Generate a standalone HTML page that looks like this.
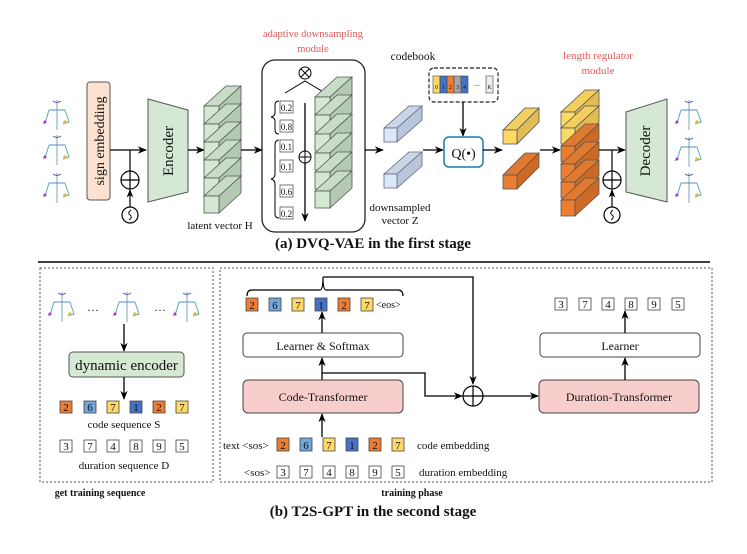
<!DOCTYPE html>
<html><head><meta charset="utf-8"><style>
html,body{margin:0;padding:0;background:#fff}
svg{display:block}
text{font-family:"Liberation Serif",serif;fill:#111}
</style></head><body>
<svg width="747" height="554" viewBox="0 0 747 554" xmlns="http://www.w3.org/2000/svg">
<defs>
<marker id="ar" viewBox="0 0 10 10" refX="9" refY="5" markerWidth="7" markerHeight="7" orient="auto-start-reverse"><path d="M0,1 L10,5 L0,9 L3,5 z" fill="#000"/></marker>
<g id="cg" stroke="#555" stroke-width="0.8">
<polygon points="0,0 22,-20 37,-20 15,0" fill="#c9dcc8"/>
<polygon points="15,0 37,-20 37,-3 15,17" fill="#b4c9b3"/>
<rect x="0" y="0" width="15" height="17" fill="#d5e8d4"/></g>
<g id="cb" stroke="#667" stroke-width="0.8">
<polygon points="0,0 25,-22 38,-22 13,0" fill="#c9d6ea"/>
<polygon points="13,0 38,-22 38,-8 13,14" fill="#b8c6dc"/>
<rect x="0" y="0" width="13" height="14" fill="#dae8fc"/></g>
<g id="cy" stroke="#555" stroke-width="0.8">
<polygon points="0,0 22,-22 36,-22 14,0" fill="#f2cf5e"/>
<polygon points="14,0 36,-22 36,-8 14,14" fill="#e2bc50"/>
<rect x="0" y="0" width="14" height="14" fill="#ffd966"/></g>
<g id="co" stroke="#555" stroke-width="0.8">
<polygon points="0,0 22,-22 36,-22 14,0" fill="#e07a30"/>
<polygon points="14,0 36,-22 36,-8 14,14" fill="#cc6a25"/>
<rect x="0" y="0" width="14" height="14" fill="#ed7d31"/></g>
<g id="ry" stroke="#555" stroke-width="0.8">
<polygon points="0,0 24,-22 38,-22 14,0" fill="#f2cf5e"/>
<polygon points="14,0 38,-22 38,-6 14,16" fill="#e2bc50"/>
<rect x="0" y="0" width="14" height="16" fill="#ffd966"/></g>
<g id="ro" stroke="#555" stroke-width="0.8">
<polygon points="0,0 24,-22 38,-22 14,0" fill="#e07a30"/>
<polygon points="14,0 38,-22 38,-6 14,16" fill="#cc6a25"/>
<rect x="0" y="0" width="14" height="16" fill="#ed7d31"/></g>
<g id="sk" fill="none" stroke-width="1">
<path d="M12,0 L12,30" stroke="#7ab"/>
<path d="M8,1 Q12,4 16,1" stroke="#55a"/>
<path d="M4,10 L20,10" stroke="#58c"/>
<path d="M4,10 L1,20 L-2,24" stroke="#5ab"/>
<path d="M20,10 L24,22 L18,24" stroke="#5ab"/>
<circle cx="0" cy="22" r="1.5" fill="#a3c" stroke="none"/>
<circle cx="20" cy="22" r="1.8" fill="#db4" stroke="none"/>
</g>
</defs>

<!-- ===== Part (a) ===== -->
<use href="#sk" x="45" y="100"/><use href="#sk" x="45" y="135"/><use href="#sk" x="45" y="173"/>
<rect x="87" y="82" width="23" height="118" rx="3" fill="#fde3cf" stroke="#555" stroke-width="1"/>
<text transform="translate(104,141) rotate(-90)" font-size="14" text-anchor="middle">sign embedding</text>
<line x1="110" y1="150" x2="146" y2="150" stroke="#000" stroke-width="1.3" marker-end="url(#ar)"/>
<line x1="130" y1="150" x2="130" y2="171" stroke="#000" stroke-width="1.2"/>
<circle cx="130" cy="180" r="9" fill="none" stroke="#000" stroke-width="1.2"/>
<path d="M121,180 H139 M130,171 V189" stroke="#000" stroke-width="1.2"/>
<line x1="130" y1="207" x2="130" y2="190" stroke="#000" stroke-width="1.2" marker-end="url(#ar)"/>
<circle cx="130" cy="215" r="8" fill="#fff" stroke="#000" stroke-width="1.2"/>
<path d="M131,210 Q127,213 130,215 Q133,217 129,220" fill="none" stroke="#000" stroke-width="0.9"/>
<polygon points="148,99 188,110 188,192 148,202" fill="#d5e8d4" stroke="#555"/>
<text transform="translate(173,151) rotate(-90)" font-size="15" text-anchor="middle">Encoder</text>
<line x1="188" y1="150" x2="204" y2="150" stroke="#000" stroke-width="1.3" marker-end="url(#ar)"/>
<use href="#cg" x="204" y="106"/><use href="#cg" x="204" y="124"/><use href="#cg" x="204" y="142"/><use href="#cg" x="204" y="160"/><use href="#cg" x="204" y="178"/><use href="#cg" x="204" y="196"/>
<text x="220" y="229" font-size="11" text-anchor="middle">latent vector  H</text>
<line x1="241" y1="150" x2="262" y2="150" stroke="#000" stroke-width="1.3" marker-end="url(#ar)"/>
<text x="313" y="37" font-size="10.5" text-anchor="middle" style="fill:#e05a5a">adaptive downsampling</text>
<text x="313" y="52" font-size="10.5" text-anchor="middle" style="fill:#e05a5a">module</text>
<rect x="262" y="60" width="103" height="172" rx="13" fill="none" stroke="#222" stroke-width="1.3"/>
<circle cx="305" cy="73" r="6" fill="none" stroke="#000"/>
<path d="M301,69 L309,77 M309,69 L301,77" stroke="#000"/>
<path d="M285,93 L305,81 L325,93" fill="none" stroke="#000"/>
<g stroke="#555" stroke-width="0.8">
<rect x="280" y="101" width="13" height="12" fill="#fff"/><rect x="280" y="120" width="13" height="12" fill="#fff"/>
<rect x="280" y="140" width="13" height="12" fill="#fff"/><rect x="280" y="160" width="13" height="12" fill="#fff"/>
<rect x="280" y="185" width="13" height="12" fill="#fff"/><rect x="280" y="207" width="13" height="12" fill="#fff"/>
</g>
<g font-size="9" text-anchor="middle"><text x="286.5" y="111">0.2</text><text x="286.5" y="130">0.8</text><text x="286.5" y="150">0.1</text><text x="286.5" y="170">0.1</text><text x="286.5" y="195">0.6</text><text x="286.5" y="217">0.2</text></g>
<path d="M279,101 Q275,101 275,105 L275,113 Q275,116 271,117 Q275,118 275,121 L275,130 Q275,134 279,134" fill="none" stroke="#000"/>
<path d="M279,140 Q275,140 275,145 L275,174 Q275,178 271,179 Q275,180 275,184 L275,214 Q275,218 279,218" fill="none" stroke="#000"/>
<line x1="305" y1="103" x2="305" y2="221" stroke="#000" stroke-width="1.3" marker-end="url(#ar)"/>
<circle cx="305" cy="157" r="6" fill="#fff" stroke="#000"/><path d="M299,157 H311 M305,151 V163" stroke="#000"/>
<use href="#cg" x="315" y="97"/><use href="#cg" x="315" y="115"/><use href="#cg" x="315" y="134"/><use href="#cg" x="315" y="153"/><use href="#cg" x="315" y="172"/><use href="#cg" x="315" y="191"/>
<line x1="365" y1="150" x2="383" y2="150" stroke="#000" stroke-width="1.3" marker-end="url(#ar)"/>
<use href="#cb" x="384" y="128"/><use href="#cb" x="384" y="174"/>
<text x="400" y="211" font-size="11" text-anchor="middle">downsampled</text>
<text x="400" y="224" font-size="11" text-anchor="middle">vector  Z</text>
<line x1="423" y1="150" x2="443" y2="150" stroke="#000" stroke-width="1.3" marker-end="url(#ar)"/>
<text x="413" y="60" font-size="11.5" text-anchor="middle">codebook</text>
<rect x="429" y="68" width="69" height="34" rx="5" fill="none" stroke="#222" stroke-width="1.2" stroke-dasharray="4,2"/>
<g stroke="#444" stroke-width="0.6"><rect x="433" y="76" width="7" height="17" fill="#ffd966"/><rect x="440" y="76" width="7" height="17" fill="#4472c4"/><rect x="447" y="76" width="7" height="17" fill="#ed7d31"/><rect x="454" y="76" width="7" height="17" fill="#a5a5a5"/><rect x="461" y="76" width="7" height="17" fill="#4472c4"/><rect x="486" y="76" width="7" height="17" fill="#eee"/></g>
<g font-size="6" text-anchor="middle"><text x="436.5" y="89">0</text><text x="443.5" y="89">1</text><text x="450.5" y="89">2</text><text x="457.5" y="89">3</text><text x="464.5" y="89">4</text><text x="477" y="86">....</text><text x="489.5" y="89">K</text></g>
<line x1="463" y1="102" x2="463" y2="136" stroke="#000" stroke-width="1.3" marker-end="url(#ar)"/>
<rect x="444" y="137" width="39" height="30" rx="5" fill="#fff" stroke="#1a7bab" stroke-width="1.5"/>
<text x="463.5" y="158" font-size="14" text-anchor="middle">Q(•)</text>
<line x1="483" y1="150" x2="502" y2="150" stroke="#000" stroke-width="1.3" marker-end="url(#ar)"/>
<use href="#cy" x="503" y="130"/><use href="#co" x="503" y="175"/>
<line x1="540" y1="150" x2="560" y2="150" stroke="#000" stroke-width="1.3" marker-end="url(#ar)"/>
<text x="598" y="59" font-size="11" text-anchor="middle" style="fill:#e05a5a">length regulator</text>
<text x="598" y="74" font-size="11" text-anchor="middle" style="fill:#e05a5a">module</text>
<use href="#ry" x="561" y="112"/><use href="#ry" x="561" y="128"/><use href="#ro" x="561" y="146"/><use href="#ro" x="561" y="164"/><use href="#ro" x="561" y="182"/><use href="#ro" x="561" y="200"/>
<line x1="599" y1="150" x2="625" y2="150" stroke="#000" stroke-width="1.3" marker-end="url(#ar)"/>
<line x1="612" y1="150" x2="612" y2="171" stroke="#000" stroke-width="1.2"/>
<circle cx="612" cy="180" r="9" fill="none" stroke="#000" stroke-width="1.2"/>
<path d="M603,180 H621 M612,171 V189" stroke="#000" stroke-width="1.2"/>
<line x1="612" y1="207" x2="612" y2="190" stroke="#000" stroke-width="1.2" marker-end="url(#ar)"/>
<circle cx="612" cy="215" r="8" fill="#fff" stroke="#000" stroke-width="1.2"/>
<path d="M613,210 Q609,213 612,215 Q615,217 611,220" fill="none" stroke="#000" stroke-width="0.9"/>
<polygon points="626,112 667,99 667,202 626,192" fill="#d5e8d4" stroke="#555"/>
<text transform="translate(650,151) rotate(-90)" font-size="15" text-anchor="middle">Decoder</text>
<use href="#sk" x="677" y="100"/><use href="#sk" x="677" y="137"/><use href="#sk" x="677" y="173"/>
<text x="373" y="248" font-size="15" font-weight="bold" text-anchor="middle">(a) DVQ-VAE in the first stage</text>
<line x1="38" y1="262" x2="710" y2="262" stroke="#000" stroke-width="1.5"/>

<!-- ===== Part (b) ===== -->
<rect x="40" y="268" width="173" height="214" fill="none" stroke="#555" stroke-dasharray="2,2"/>
<rect x="220" y="268" width="492" height="214" fill="none" stroke="#555" stroke-dasharray="2,2"/>
<use href="#sk" x="50" y="292"/><use href="#sk" x="115" y="292"/><use href="#sk" x="175" y="292"/>
<text x="93" y="314" font-size="12" text-anchor="middle">···</text><text x="160" y="314" font-size="12" text-anchor="middle">···</text>
<line x1="124" y1="324" x2="124" y2="351" stroke="#000" stroke-width="1.3" marker-end="url(#ar)"/>
<rect x="69" y="352" width="115" height="25" rx="4" fill="#d5e8d4" stroke="#555"/>
<text x="126.5" y="370" font-size="15" text-anchor="middle">dynamic encoder</text>
<line x1="124" y1="377" x2="124" y2="399" stroke="#000" stroke-width="1.3" marker-end="url(#ar)"/>
<g stroke="#444" stroke-width="0.8">
<rect x="60" y="401" width="12" height="12" fill="#ed7d31"/><rect x="84" y="401" width="12" height="12" fill="#6fa8dc"/><rect x="107" y="401" width="12" height="12" fill="#ffd966"/><rect x="130" y="401" width="12" height="12" fill="#4472c4"/><rect x="153" y="401" width="12" height="12" fill="#ed7d31"/><rect x="176" y="401" width="12" height="12" fill="#ffd966"/>
<rect x="60" y="440" width="12" height="12" fill="#fff"/><rect x="84" y="440" width="12" height="12" fill="#fff"/><rect x="107" y="440" width="12" height="12" fill="#fff"/><rect x="130" y="440" width="12" height="12" fill="#fff"/><rect x="153" y="440" width="12" height="12" fill="#fff"/><rect x="176" y="440" width="12" height="12" fill="#fff"/>
</g>
<g font-size="11" text-anchor="middle">
<text x="66" y="411">2</text><text x="90" y="411">6</text><text x="113" y="411">7</text><text x="136" y="411">1</text><text x="159" y="411">2</text><text x="182" y="411">7</text>
<text x="66" y="450">3</text><text x="90" y="450">7</text><text x="113" y="450">4</text><text x="136" y="450">8</text><text x="159" y="450">9</text><text x="182" y="450">5</text>
<text x="124" y="428">code sequence S</text><text x="124" y="469">duration sequence D</text></g>
<text x="100" y="496" font-size="10" font-weight="bold" text-anchor="middle">get training sequence</text>

<path d="M247,296 Q247,290 252,290 L320,290 Q323,290 323,277 Q323,290 326,290 L398,290 Q403,290 403,296" fill="none" stroke="#000" stroke-width="1.2"/>
<path d="M323,277 H473 V384" fill="none" stroke="#000" stroke-width="1.3" marker-end="url(#ar)"/>
<g stroke="#444" stroke-width="0.8">
<rect x="246" y="298" width="12" height="13" fill="#ed7d31"/><rect x="269" y="298" width="12" height="13" fill="#6fa8dc"/><rect x="292" y="298" width="12" height="13" fill="#ffd966"/><rect x="315" y="298" width="12" height="13" fill="#4472c4"/><rect x="338" y="298" width="12" height="13" fill="#ed7d31"/><rect x="361" y="298" width="12" height="13" fill="#ffd966"/>
<rect x="277" y="438" width="12" height="13" fill="#ed7d31"/><rect x="300" y="438" width="12" height="13" fill="#6fa8dc"/><rect x="323" y="438" width="12" height="13" fill="#ffd966"/><rect x="346" y="438" width="12" height="13" fill="#4472c4"/><rect x="369" y="438" width="12" height="13" fill="#ed7d31"/><rect x="392" y="438" width="12" height="13" fill="#ffd966"/>
<rect x="277" y="466" width="12" height="12" fill="#fff"/><rect x="300" y="466" width="12" height="12" fill="#fff"/><rect x="323" y="466" width="12" height="12" fill="#fff"/><rect x="346" y="466" width="12" height="12" fill="#fff"/><rect x="369" y="466" width="12" height="12" fill="#fff"/><rect x="392" y="466" width="12" height="12" fill="#fff"/>
<rect x="555" y="298" width="12" height="12" fill="#fff"/><rect x="579" y="298" width="12" height="12" fill="#fff"/><rect x="602" y="298" width="12" height="12" fill="#fff"/><rect x="625" y="298" width="12" height="12" fill="#fff"/><rect x="648" y="298" width="12" height="12" fill="#fff"/><rect x="672" y="298" width="12" height="12" fill="#fff"/>
</g>
<g font-size="11" text-anchor="middle">
<text x="252" y="309">2</text><text x="275" y="309">6</text><text x="298" y="309">7</text><text x="321" y="309">1</text><text x="344" y="309">2</text><text x="367" y="309">7</text>
<text x="283" y="449">2</text><text x="306" y="449">6</text><text x="329" y="449">7</text><text x="352" y="449">1</text><text x="375" y="449">2</text><text x="398" y="449">7</text>
<text x="283" y="476">3</text><text x="306" y="476">7</text><text x="329" y="476">4</text><text x="352" y="476">8</text><text x="375" y="476">9</text><text x="398" y="476">5</text>
<text x="561" y="308">3</text><text x="585" y="308">7</text><text x="608" y="308">4</text><text x="631" y="308">8</text><text x="654" y="308">9</text><text x="678" y="308">5</text>
</g>
<text x="376" y="308" font-size="10">&lt;eos&gt;</text>
<text x="223" y="449" font-size="11">text &lt;sos&gt;</text>
<text x="244" y="476" font-size="11">&lt;sos&gt;</text>
<text x="417" y="449" font-size="11">code embedding</text>
<text x="419" y="476" font-size="11">duration embedding</text>
<line x1="322" y1="333" x2="322" y2="312" stroke="#000" stroke-width="1.3" marker-end="url(#ar)"/>
<rect x="243" y="333" width="160" height="24" rx="4" fill="#fff" stroke="#444"/>
<text x="323" y="350" font-size="12" text-anchor="middle">Learner &amp; Softmax</text>
<line x1="322" y1="380" x2="322" y2="358" stroke="#000" stroke-width="1.3" marker-end="url(#ar)"/>
<path d="M322,373 H425 V396 H462" fill="none" stroke="#000" stroke-width="1.3" marker-end="url(#ar)"/>
<rect x="243" y="380" width="160" height="33" rx="5" fill="#f8cecc" stroke="#444"/>
<text x="323" y="401" font-size="12" text-anchor="middle">Code-Transformer</text>
<line x1="322" y1="437" x2="322" y2="414" stroke="#000" stroke-width="1.3" marker-end="url(#ar)"/>
<circle cx="473" cy="396" r="10" fill="none" stroke="#000" stroke-width="1.2"/>
<path d="M463,396 H483 M473,386 V406" stroke="#000" stroke-width="1.2"/>
<line x1="483" y1="396" x2="538" y2="396" stroke="#000" stroke-width="1.3" marker-end="url(#ar)"/>
<rect x="539" y="380" width="160" height="33" rx="5" fill="#f8cecc" stroke="#444"/>
<text x="619" y="401" font-size="12" text-anchor="middle">Duration-Transformer</text>
<line x1="625" y1="380" x2="625" y2="358" stroke="#000" stroke-width="1.3" marker-end="url(#ar)"/>
<rect x="540" y="333" width="160" height="24" rx="4" fill="#fff" stroke="#444"/>
<text x="620" y="350" font-size="12" text-anchor="middle">Learner</text>
<line x1="625" y1="333" x2="625" y2="311" stroke="#000" stroke-width="1.3" marker-end="url(#ar)"/>
<text x="412" y="496" font-size="10" font-weight="bold" text-anchor="middle">training phase</text>
<text x="373" y="516" font-size="15" font-weight="bold" text-anchor="middle">(b) T2S-GPT in the second stage</text>
</svg>
</body></html>
